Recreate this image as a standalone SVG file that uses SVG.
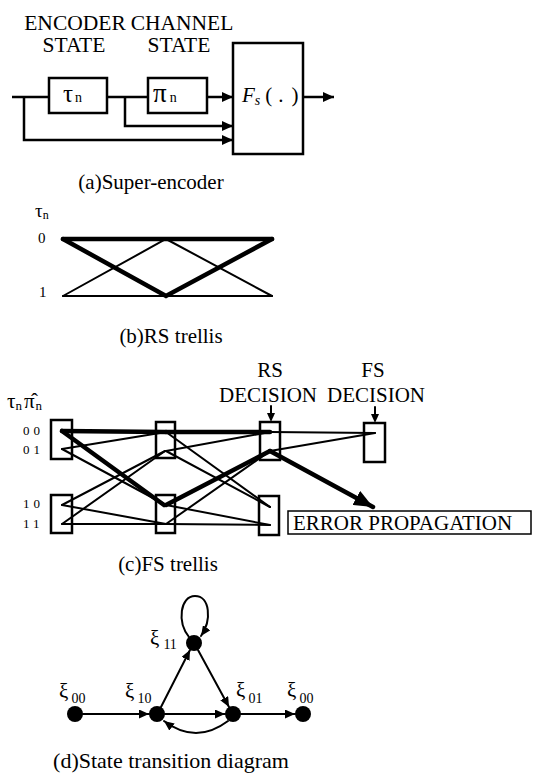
<svg xmlns="http://www.w3.org/2000/svg" width="534" height="773" viewBox="0 0 534 773">
<defs>
<style>
.box{fill:#fff;stroke:#000;stroke-width:2.5}
.boxn{fill:none;stroke:#000;stroke-width:2.5}
.ln{stroke:#000;stroke-width:2.5;fill:none}
.th{stroke:#000;stroke-width:2;fill:none;stroke-linecap:round}
.tk{stroke:#000;stroke-width:4.5;fill:none;stroke-linecap:round}
.node{fill:#000}
</style>
<marker id="ah" markerUnits="userSpaceOnUse" markerWidth="12" markerHeight="10" refX="11" refY="5" orient="auto"><path d="M0,0 L11,5 L0,10 z" fill="#000"/></marker>
<marker id="ahd" markerUnits="userSpaceOnUse" markerWidth="11" markerHeight="9" refX="10" refY="4.5" orient="auto"><path d="M0,0 L10,4.5 L0,9 z" fill="#000"/></marker>
<marker id="ahb" markerUnits="userSpaceOnUse" markerWidth="20" markerHeight="16" refX="19" refY="8" orient="auto"><path d="M0,0 L19,8 L0,16 z" fill="#000"/></marker>
</defs>
<g font-family="Times New Roman, Liberation Serif, Tinos, DejaVu Serif, serif" fill="#000">

<!-- (a) Super-encoder -->
<g id="labels-a">
<text x="75" y="30" font-size="21.5" text-anchor="middle">ENCODER</text>
<text x="74" y="52" font-size="21.5" text-anchor="middle">STATE</text>
<text x="182" y="30" font-size="21.5" text-anchor="middle">CHANNEL</text>
<text x="179" y="52" font-size="21.5" text-anchor="middle">STATE</text>
<text x="151" y="189" font-size="21" text-anchor="middle">(a)Super-encoder</text>
</g>
<g id="connectors-a">
<path class="ln" d="M12,97 H49"/>
<path class="ln" d="M107,97 H148"/>
<path class="ln" d="M207,97 H233" marker-end="url(#ah)"/>
<path class="ln" d="M303,97 H334" marker-end="url(#ah)"/>
<path class="ln" d="M125,97 V126 H233" marker-end="url(#ah)"/>
<path class="ln" d="M24,97 V140 H233" marker-end="url(#ah)"/>
</g>
<g id="node-tau">
<rect class="box" x="49" y="78" width="58" height="35"/>
<text x="63" y="102" font-size="25">τ<tspan font-size="14" dx="2">n</tspan></text>
</g>
<g id="node-pi">
<rect class="box" x="148" y="78" width="59" height="35"/>
<text x="153" y="102" font-size="27">π<tspan font-size="14" dx="3">n</tspan></text>
</g>
<g id="node-fs">
<rect class="box" x="233" y="43" width="70" height="111"/>
<text x="242" y="102" font-size="21"><tspan font-style="italic">F</tspan><tspan font-style="italic" font-size="14" dy="3">s</tspan><tspan dy="-3" dx="5">(</tspan><tspan dx="6">.</tspan><tspan dx="8">)</tspan></text>
</g>

<!-- (b) RS trellis -->
<g id="labels-b">
<text x="35" y="217" font-size="19">τ<tspan font-size="12" dy="2">n</tspan></text>
<text x="38" y="243" font-size="15">0</text>
<text x="39" y="297" font-size="15">1</text>
<text x="171" y="343" font-size="21" text-anchor="middle">(b)RS trellis</text>
</g>
<g id="connectors-b">
<path class="tk" d="M63,239 H272"/>
<path class="tk" d="M63,239 L166,296 L272,239"/>
<path class="th" d="M63,296 L166,239 L272,296"/>
<path class="th" d="M63,296 H272"/>
</g>

<!-- (c) FS trellis -->
<g id="labels-c">
<text x="7" y="408" font-size="21">τ<tspan font-size="13" dy="2">n</tspan><tspan dy="-2" dx="2">π̂</tspan><tspan font-size="13" dy="2" dx="1">n</tspan></text>
<text x="23" y="435" font-size="13" letter-spacing="4">00</text>
<text x="23" y="454" font-size="13" letter-spacing="4">01</text>
<text x="23" y="508" font-size="13" letter-spacing="4">10</text>
<text x="23" y="528" font-size="13" letter-spacing="4">11</text>
<text x="270" y="377" font-size="21" text-anchor="middle">RS</text>
<text x="268" y="402" font-size="21" text-anchor="middle">DECISION</text>
<text x="373" y="377" font-size="21" text-anchor="middle">FS</text>
<text x="376" y="402" font-size="21" text-anchor="middle">DECISION</text>
<text x="168" y="571" font-size="21" text-anchor="middle">(c)FS trellis</text>
</g>
<g id="s1-top"><rect class="boxn" x="51" y="420" width="21" height="39"/></g>
<g id="s1-bot"><rect class="boxn" x="51" y="495" width="21" height="38"/></g>
<g id="s2-top"><rect class="boxn" x="156" y="422" width="19" height="36"/></g>
<g id="s2-bot"><rect class="boxn" x="156" y="495" width="19" height="38"/></g>
<g id="s3-top"><rect class="boxn" x="260" y="422" width="20" height="38"/></g>
<g id="s3-bot"><rect class="boxn" x="259" y="496" width="20" height="39"/></g>
<g id="s4-fs"><rect class="boxn" x="364" y="423" width="21" height="39"/></g>
<g id="error-prop">
<rect x="288" y="511" width="243" height="23" fill="none" stroke="#000" stroke-width="1.5"/>
<text x="293" y="530" font-size="21">ERROR PROPAGATION</text>
</g>
<g id="connectors-c">
<path class="tk" d="M62,431 L166,432" stroke-width="5"/>
<path class="tk" d="M62,431 L164,505"/>
<path class="th" d="M62,449 L166,432"/>
<path class="th" d="M62,449 L166,505" stroke-width="2.5"/>
<path class="th" d="M62,505 L165,451" stroke-width="3"/>
<path class="th" d="M62,505 L166,524"/>
<path class="th" d="M62,524 L165,451"/>
<path class="th" d="M62,524 L166,524"/>
<path class="tk" d="M166,432 L270,432"/>
<path class="th" d="M166,432 L270,507"/>
<path class="th" d="M166,451 L270,432"/>
<path class="th" d="M166,451 L270,507"/>
<path class="tk" d="M166,505 L270,451"/>
<path class="th" d="M166,505 L270,525"/>
<path class="th" d="M166,524 L270,451"/>
<path class="th" d="M166,524 L270,525"/>
<path class="th" d="M270,432 L375,433"/>
<path class="th" d="M270,451 L375,433"/>
<path class="tk" d="M270,451 L373,507" stroke-width="4" marker-end="url(#ahb)"/>
<path class="th" d="M271,406 V414"/>
<polygon points="267,413 275,413 271,422" fill="#000"/>
<path class="th" d="M375,407 V415"/>
<polygon points="371,414 379,414 375,423" fill="#000"/>
</g>

<!-- (d) State transition diagram -->
<g id="xi00a"><circle class="node" cx="75" cy="714" r="8"/><text x="59" y="698" font-size="21">ξ<tspan font-size="14" dx="3" dy="5">00</tspan></text></g>
<g id="xi10"><circle class="node" cx="157" cy="714" r="8"/><text x="125" y="698" font-size="21">ξ<tspan font-size="14" dx="3" dy="5">10</tspan></text></g>
<g id="xi11"><circle class="node" cx="194" cy="643" r="8"/><text x="150" y="645" font-size="21">ξ<tspan font-size="14" dx="4" dy="4">11</tspan></text></g>
<g id="xi01"><circle class="node" cx="233" cy="714" r="8"/><text x="236" y="697" font-size="21">ξ<tspan font-size="14" dx="3" dy="6">01</tspan></text></g>
<g id="xi00b"><circle class="node" cx="303" cy="714" r="8"/><text x="287" y="697" font-size="21">ξ<tspan font-size="14" dx="3" dy="6">00</tspan></text></g>
<g id="connectors-d">
<path class="th" d="M83,714 H149" marker-end="url(#ahd)"/>
<path class="th" d="M165,714 H225" marker-end="url(#ahd)"/>
<path class="th" d="M241,714 H295" marker-end="url(#ahd)"/>
<path class="th" d="M161,707 L190,650" marker-end="url(#ahd)"/>
<path class="th" d="M198,650 L229,707" marker-end="url(#ahd)"/>
<path class="th" d="M228,721 Q196,745 164,721" marker-end="url(#ahd)"/>
<path class="th" d="M189,637 C177,622 180,596 195,596 C210,596 212,620 201,636" marker-end="url(#ahd)"/>
</g>
<g id="labels-d">
<text x="171" y="768" font-size="22" text-anchor="middle">(d)State transition diagram</text>
</g>
</g>
</svg>
